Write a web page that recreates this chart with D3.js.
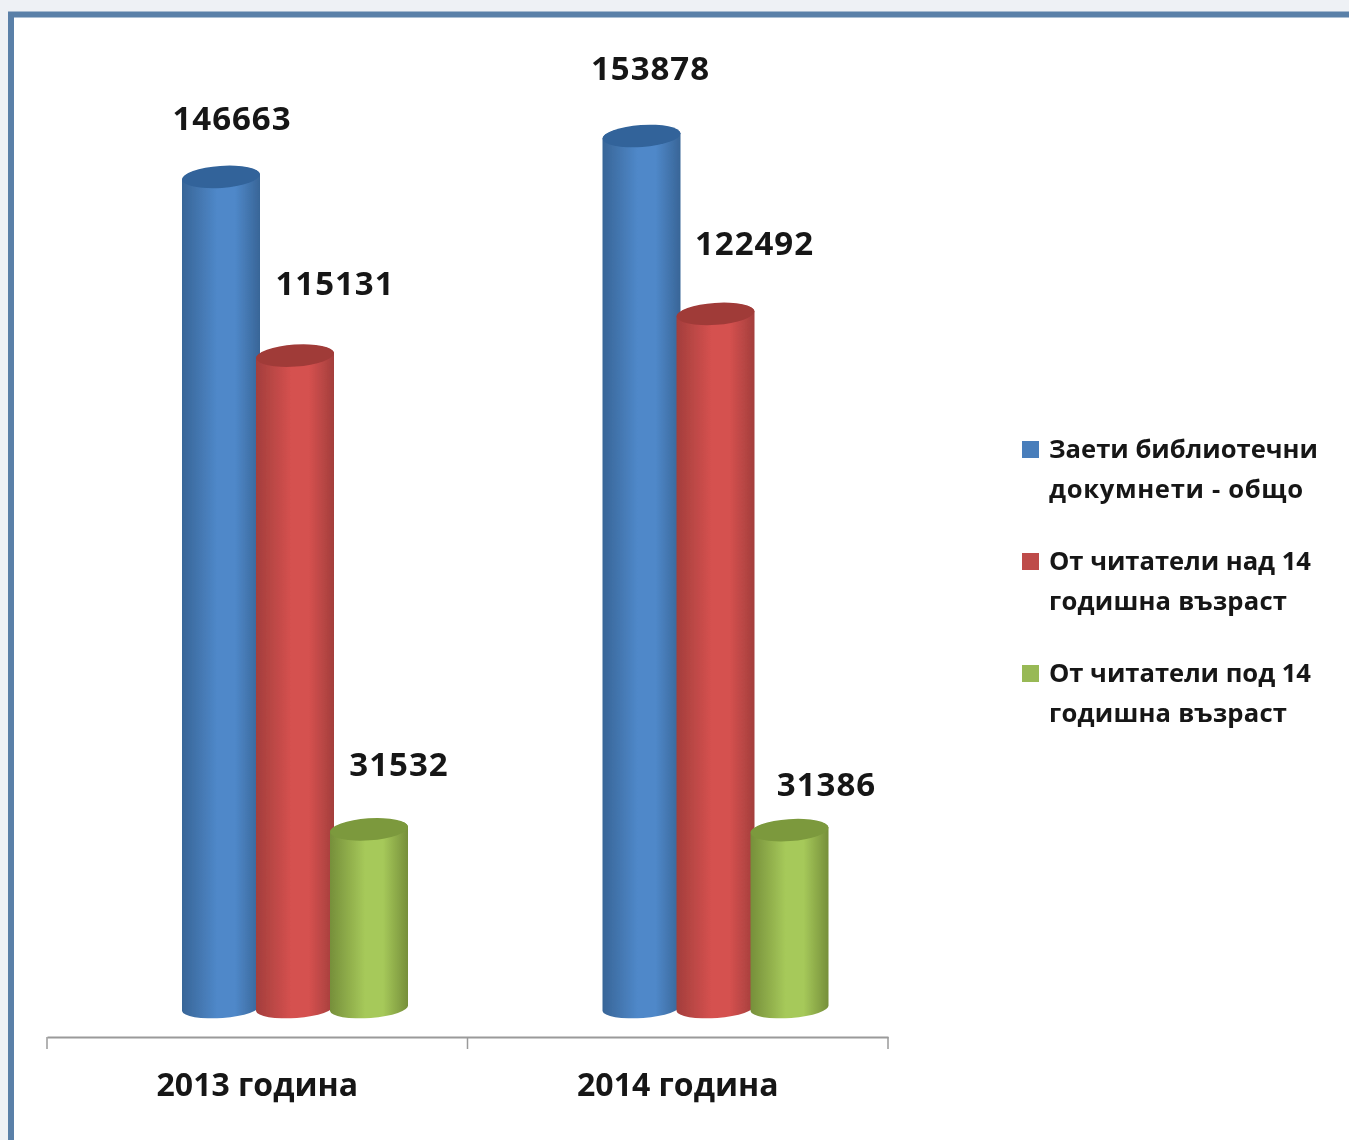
<!DOCTYPE html>
<html>
<head>
<meta charset="utf-8">
<script src="https://d3js.org/d3.v7.min.js"></script>
<style>
  html, body { margin: 0; padding: 0; background: #eef1f5; overflow: hidden; }
  text { font-family: "Open Sans", sans-serif; font-weight: 700; fill: #141414; }
</style>
</head>
<body>
<script>
var categories = ['2013 година', '2014 година'];
var seriesNames = [
  ['Заети библиотечни', 'докумнети - общо'],
  ['От читатели над 14', 'годишна възраст'],
  ['От читатели под 14', 'годишна възраст']
];
var totalValues = [146663, 153878];
var over14Values = [115131, 122492];
var under14Values = [31532, 31386];

var seriesColors = [
  { edge: '#386597', mid: '#4f88c9', top: '#31639a', swatch: '#4a7ebb' },
  { edge: '#a33e3c', mid: '#d5514f', top: '#a03a39', swatch: '#be4b48' },
  { edge: '#768f3a', mid: '#a6c95a', top: '#7b993d', swatch: '#98b954' }
];
// hand placed like in the original, [dx, dy] from the top of each cylinder
var labelOffsets = [
  [[11, -59], [9, -68]],
  [[40, -72], [39, -71]],
  [[30, -65], [37, -46]]
];
// measured widths of the legend lines
var legendLineWidths = [[269, 254], [262, 238], [262, 238]];

var width = 1349, height = 1140;
var axisY = 1037, baseY = 1008;

var svg = d3.select('body').append('svg')
  .attr('width', width)
  .attr('height', height)
  .style('display', 'block');

var defs = svg.append('defs');
defs.append('filter').attr('id', 'soft')
  .append('feGaussianBlur').attr('stdDeviation', 0.7);

seriesColors.forEach(function(c, i) {
  var g = defs.append('linearGradient').attr('id', 'cyl' + i);
  g.append('stop').attr('offset', '0%').attr('stop-color', c.edge);
  g.append('stop').attr('offset', '45%').attr('stop-color', c.mid);
  g.append('stop').attr('offset', '68%').attr('stop-color', c.mid);
  g.append('stop').attr('offset', '100%').attr('stop-color', c.edge);
});

// frame of the screenshot
svg.append('rect')
  .attr('x', 11).attr('y', 14.5)
  .attr('width', width + 20).attr('height', height + 20)
  .attr('fill', '#fff')
  .attr('stroke', '#5a80a8')
  .attr('stroke-width', 6);

var root = svg.append('g').attr('filter', 'url(#soft)');

var x = d3.scaleBand().domain(categories).range([47, 888]);
var series = d3.scaleBand().domain([0, 1, 2]).range([182, 404]);
var y = d3.scaleLinear().domain([0, 150000]).range([baseY, baseY - 850]);

var groupOffset = series.range()[0] - x(categories[0]);
var barW = series.bandwidth() + 4;
var rx = barW / 2, ry = 10;

var rows = [totalValues, over14Values, under14Values];

function cylinder(top) {
  // left and right edge follow the tilt of the ellipses
  var tilt = 3;
  return 'M0,' + (top + tilt) +
    'L0,' + (baseY + tilt) +
    'A' + rx + ',' + ry + ' -4 0 0 ' + barW + ',' + (baseY - tilt) +
    'L' + barW + ',' + (top - tilt) +
    'A' + rx + ',' + ry + ' -4 0 0 0,' + (top + tilt) + 'Z';
}

var bars = root.selectAll('.bar')
  .data(d3.merge(rows.map(function(values, s) {
    return values.map(function(v, c) {
      return { s: s, c: c, value: v };
    });
  })))
  .enter().append('g')
  .attr('class', 'bar')
  .attr('transform', function(d) {
    var px = x(categories[d.c]) + groupOffset + series(d.s) - series.range()[0];
    return 'translate(' + px + ',0)';
  });

bars.append('path')
  .attr('d', function(d) { return cylinder(y(d.value)); })
  .attr('fill', function(d) { return 'url(#cyl' + d.s + ')'; });

bars.append('ellipse')
  .attr('cx', rx)
  .attr('cy', function(d) { return y(d.value); })
  .attr('rx', rx)
  .attr('ry', ry + 1)
  .attr('transform', function(d) { return 'rotate(-4,' + rx + ',' + y(d.value) + ')'; })
  .attr('fill', function(d) { return seriesColors[d.s].top; });

bars.append('text')
  .attr('x', function(d) { return rx + labelOffsets[d.s][d.c][0]; })
  .attr('y', function(d) { return y(d.value) + labelOffsets[d.s][d.c][1]; })
  .attr('dy', '0.36em')
  .attr('text-anchor', 'middle')
  .style('font-size', '33px')
  .style('letter-spacing', '1px')
  .text(function(d) { return d.value; });

// category axis, ticks sit on the band boundaries
var axis = root.append('g')
  .attr('transform', 'translate(0,' + axisY + ')')
  .call(d3.axisBottom(x).tickSize(0).tickPadding(36));
axis.select('.domain').attr('stroke', '#9a9a9a').attr('stroke-width', 2);
axis.selectAll('.tick text')
  .style('font-size', '32px')
  .style('font-family', '"Open Sans", sans-serif')
  .attr('fill', '#141414');

axis.selectAll('.boundary')
  .data(categories.concat(['end']))
  .enter().append('line')
  .attr('class', 'boundary')
  .attr('x1', function(d, i) { return x.range()[0] + i * x.step(); })
  .attr('x2', function(d, i) { return x.range()[0] + i * x.step(); })
  .attr('y1', 0)
  .attr('y2', 12)
  .attr('stroke', '#9a9a9a')
  .attr('stroke-width', 1.5);

// legend
var legend = root.selectAll('.legend')
  .data(seriesNames)
  .enter().append('g')
  .attr('class', 'legend')
  .attr('transform', function(d, i) { return 'translate(1022,' + (441 + i * 112) + ')'; });

legend.append('rect')
  .attr('width', 17)
  .attr('height', 17)
  .attr('fill', function(d, i) { return seriesColors[i].swatch; });

legend.each(function(names, s) {
  d3.select(this).selectAll('text')
    .data(names)
    .enter().append('text')
    .attr('x', 27)
    .attr('y', function(d, i) { return 17 + i * 40; })
    .attr('textLength', function(d, i) { return legendLineWidths[s][i]; })
    .attr('lengthAdjust', 'spacing')
    .style('font-size', '25.6px')
    .text(function(d) { return d; });
});
</script>
</body>
</html>
